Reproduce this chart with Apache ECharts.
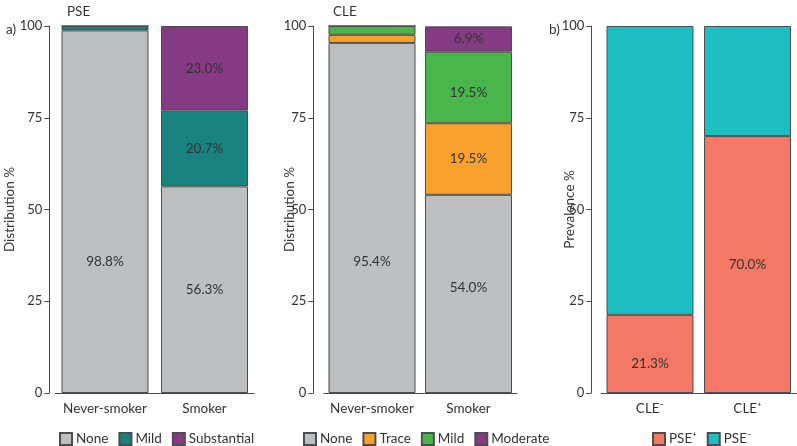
<!DOCTYPE html>
<html>
<head>
<meta charset="utf-8">
<script src="https://cdn.jsdelivr.net/npm/echarts@6/dist/echarts.min.js"></script>
<style>html,body{margin:0;padding:0;background:#fff}#c{width:797px;height:446px}</style>
</head>
<body>
<div id="c"></div>
<script>
// ---- data ----
const smokeCats = ['Never-smoker', 'Smoker'];
const pseNone = [98.8, 56.3];
const pseMild = [1.2, 20.7];
const pseSubstantial = [0, 23.0];

const cleNone = [95.4, 54.0];
const cleTrace = [2.2, 19.5];
const cleMild = [2.4, 19.5];
const cleModerate = [0, 6.9];

const cleCats = ['CLE\u207B', 'CLE\u207A'];
const psePos = [21.3, 70.0];
const pseNeg = [78.7, 30.0];

const yTicks = [0, 25, 50, 75, 100];

// ---- styles ----
const FONT = 'Lato';
const FS = 13.5;
const TXT = '#333';
const AX = '#4a4a4a';
const COL = {
  none: '#bebfc1', teal: '#17827e', purple: '#853a84', orange: '#f8a12c',
  green: '#48b64a', salmon: '#f37865', cyan: '#1dbec1'
};

const grids = [
  {left: 55.25, width: 199, top: 26, bottom: 53, axOff: 6},
  {left: 323.75, width: 193, top: 26, bottom: 53, axOff: 10.5},
  {left: 601.25, width: 195, top: 26, bottom: 53, axOff: 10}
];

const xAxes = [smokeCats, smokeCats, cleCats].map((cats, i) => ({
  type: 'category', gridIndex: i, data: cats,
  axisLine: {lineStyle: {color: AX, width: 1}},
  axisTick: {alignWithLabel: true, length: 4, lineStyle: {color: AX}},
  axisLabel: {interval: 0, color: TXT, fontFamily: FONT, fontSize: FS, margin: 9}
}));

const yNames = ['Distribution %', 'Distribution %', 'Prevalence %'];
const yGaps = [33, 17, 15];
const yAxes = grids.map((g, i) => ({
  type: 'value', gridIndex: i, min: yTicks[0], max: yTicks[yTicks.length - 1], interval: 25,
  offset: g.axOff,
  name: yNames[i], nameLocation: 'middle', nameGap: yGaps[i], nameMoveOverlap: false,
  nameTextStyle: {color: TXT, fontFamily: FONT, fontSize: FS},
  axisLine: {show: true, lineStyle: {color: AX, width: 1}},
  axisTick: {show: true, length: 5, lineStyle: {color: AX}},
  splitLine: {show: false},
  axisLabel: {color: TXT, fontFamily: FONT, fontSize: 13, margin: 7}
}));

function mk(name, data, color, idx, stack, labelIdx, offsets) {
  return {
    name: name, type: 'bar', stack: stack, xAxisIndex: idx, yAxisIndex: idx,
    barWidth: 87,
    itemStyle: {color: color, borderColor: '#4d4d4d', borderWidth: 1},
    emphasis: {disabled: true},
    data: data.map((v, j) => ({
      value: v,
      label: {
        show: labelIdx.includes(j),
        position: 'inside',
        offset: [0, (offsets && offsets[j]) || 0],
        formatter: v.toFixed(1) + '%',
        color: TXT, fontFamily: FONT, fontSize: FS
      }
    }))
  };
}

const series = [
  mk('None', pseNone, COL.none, 0, 'p', [0, 1], [50, 0]),
  mk('Mild', pseMild, COL.teal, 0, 'p', [1]),
  mk('Substantial', pseSubstantial, COL.purple, 0, 'p', [1]),
  mk('None', cleNone, COL.none, 1, 'c', [0, 1], [44, -6]),
  mk('Trace', cleTrace, COL.orange, 1, 'c', [1]),
  mk('Mild', cleMild, COL.green, 1, 'c', [1], [0, 5]),
  mk('Moderate', cleModerate, COL.purple, 1, 'c', [1]),
  mk('PSE\u207A', psePos, COL.salmon, 2, 'b', [0, 1], [10, 0]),
  mk('PSE\u207B', pseNeg, COL.cyan, 2, 'b', [])
];

const legendBase = {
  orient: 'horizontal', top: 432, itemWidth: 12, itemHeight: 12, itemGap: 10,
  icon: 'rect', selectedMode: false,
  textStyle: {color: TXT, fontFamily: FONT, fontSize: FS, padding: [0, 0, 0, -1]},
  padding: 0
};

const tStyle = {color: TXT, fontFamily: FONT, fontSize: FS, fontWeight: 'normal'};

const option = {
  animation: false,
  backgroundColor: '#fff',
  grid: grids.map(g => ({left: g.left, width: g.width, top: g.top, bottom: g.bottom})),
  xAxis: xAxes,
  yAxis: yAxes,
  series: series,
  legend: [
    Object.assign({}, legendBase, {left: 59, data: ['None', 'Mild', 'Substantial']}),
    Object.assign({}, legendBase, {left: 303, data: [
      {name: 'None'}, {name: 'Trace'},
      {name: 'Mild', itemStyle: {color: COL.green}}, {name: 'Moderate'}]}),
    Object.assign({}, legendBase, {left: 652, data: ['PSE\u207A', 'PSE\u207B']})
  ],
  title: [
    {text: 'PSE', left: 62, top: 0, textStyle: tStyle},
    {text: 'CLE', left: 328, top: 0, textStyle: tStyle},
    {text: 'a)', left: 1, top: 18, textStyle: tStyle},
    {text: 'b)', left: 544, top: 18, textStyle: tStyle}
  ]
};

const chart = echarts.init(document.getElementById('c'), null, {renderer: 'canvas'});
chart.setOption(option);
</script>
</body>
</html>
